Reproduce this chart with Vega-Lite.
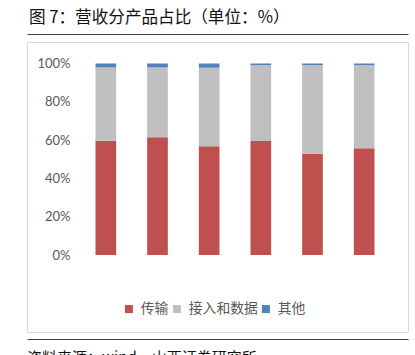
{
  "$schema": "https://vega.github.io/schema/vega-lite/v6.json",
  "width": 381,
  "height": 290,
  "autosize": {"type": "none"},
  "padding": {"left": 27, "top": 42, "right": 7, "bottom": 23},
  "background": "white",
  "title": {
    "text": "图 7：营收分产品占比（单位：%）",
    "anchor": "start",
    "frame": "group",
    "font": "Noto Sans CJK SC",
    "fontSize": 16.6,
    "fontWeight": "normal",
    "color": "#111111",
    "offset": 15,
    "dx": 2
  },
  "config": {
    "view": {"stroke": "#D9D9D9", "strokeWidth": 1},
    "axis": {"labelFont": "Lato", "labelFontSize": 13, "labelColor": "#595959", "ticks": false, "tickSize": 0, "title": null}
  },
  "datasets": {
    "share": [
      {"year": "2018", "cat": "传输", "k": 1, "value": 59.7},
      {"year": "2018", "cat": "接入和数据", "k": 2, "value": 38.3},
      {"year": "2018", "cat": "其他", "k": 3, "value": 2.0},
      {"year": "2019", "cat": "传输", "k": 1, "value": 61.5},
      {"year": "2019", "cat": "接入和数据", "k": 2, "value": 36.5},
      {"year": "2019", "cat": "其他", "k": 3, "value": 2.0},
      {"year": "2020", "cat": "传输", "k": 1, "value": 56.8},
      {"year": "2020", "cat": "接入和数据", "k": 2, "value": 41.0},
      {"year": "2020", "cat": "其他", "k": 3, "value": 2.2},
      {"year": "2021", "cat": "传输", "k": 1, "value": 59.5},
      {"year": "2021", "cat": "接入和数据", "k": 2, "value": 39.7},
      {"year": "2021", "cat": "其他", "k": 3, "value": 0.8},
      {"year": "2022", "cat": "传输", "k": 1, "value": 52.9},
      {"year": "2022", "cat": "接入和数据", "k": 2, "value": 46.3},
      {"year": "2022", "cat": "其他", "k": 3, "value": 0.8},
      {"year": "23H1", "cat": "传输", "k": 1, "value": 55.7},
      {"year": "23H1", "cat": "接入和数据", "k": 2, "value": 43.5},
      {"year": "23H1", "cat": "其他", "k": 3, "value": 0.8}
    ],
    "frame": [{"v": 0}],
    "note": [{"t": "资料来源：wind，山西证券研究所"}]
  },
  "layer": [
    {
      "data": {"name": "share"},
      "mark": {"type": "bar"},
      "encoding": {
        "x": {
          "field": "year", "type": "nominal", "sort": null,
          "scale": {"range": [53, 363], "paddingInner": 0.6, "paddingOuter": 0.3},
          "axis": {"orient": "bottom", "offset": -77, "labelAngle": 0, "domainColor": "#D9D9D9", "domainWidth": 1, "labelPadding": 10}
        },
        "y": {
          "field": "value", "type": "quantitative", "stack": "normalize",
          "scale": {"domain": [-0.45, 1.16], "range": [299.175, -9.14], "nice": false, "zero": false},
          "axis": {"orient": "left", "offset": -53, "values": [0, 0.2, 0.4, 0.6, 0.8, 1], "format": ".0%", "domain": false, "grid": false, "labelPadding": 10}
        },
        "color": {
          "field": "cat", "type": "nominal",
          "scale": {"domain": ["传输", "接入和数据", "其他"], "range": ["#C0504D", "#BFBFBF", "#4F81BD"]},
          "legend": {"orient": "none", "legendX": 95, "legendY": 260, "direction": "horizontal", "title": null, "symbolType": "square", "symbolSize": 64, "symbolStrokeWidth": 0, "labelFont": "Noto Sans CJK SC", "labelFontSize": 13.8, "labelColor": "#595959", "columnPadding": 1, "labelOffset": 5}
        },
        "order": {"field": "k", "type": "quantitative", "sort": "ascending"}
      }
    },
    {
      "data": {"name": "frame"},
      "mark": {"type": "rule", "opacity": 0},
      "encoding": {
        "y": {
          "field": "v", "type": "quantitative",
          "scale": {"domain": [-0.45, 1.16], "range": [299.175, -9.14], "nice": false, "zero": false},
          "axis": {"orient": "right", "values": [1.154, -0.4386], "grid": true, "gridColor": "#404040", "gridWidth": 1.2, "labels": false, "domain": false, "ticks": false}
        }
      }
    },
    {
      "data": {"name": "note"},
      "mark": {"type": "text", "align": "left", "baseline": "top", "font": "Noto Sans CJK SC", "fontSize": 15, "color": "#111111"},
      "encoding": {
        "x": {"datum": "2018", "type": "nominal", "bandPosition": -3.31, "axis": null},
        "y": {"datum": -0.5, "type": "quantitative", "axis": null},
        "text": {"field": "t"}
      }
    }
  ],
  "resolve": {"axis": {"y": "independent"}}
}
